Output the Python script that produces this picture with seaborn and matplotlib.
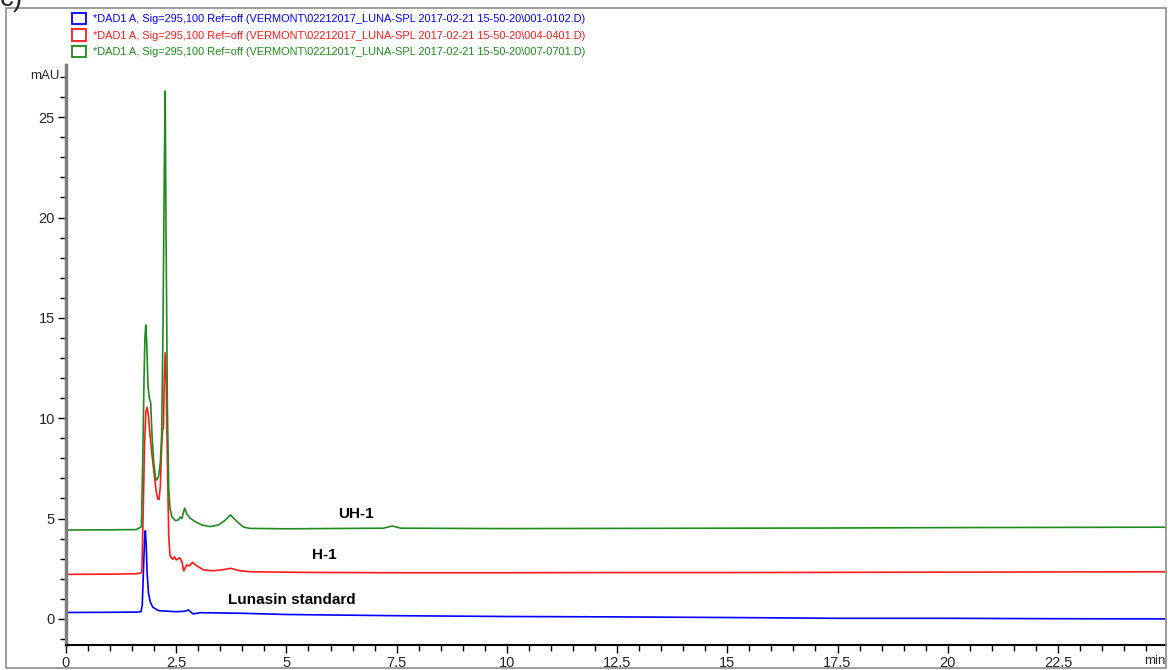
import matplotlib
matplotlib.use("Agg")
import matplotlib.pyplot as plt
from matplotlib import font_manager
from matplotlib.patches import Patch, Rectangle
from matplotlib.ticker import MultipleLocator
import pandas as pd
import seaborn as sns

# ---- chromatogram traces (retention time in min, absorbance in mAU) ----
std_t = [0.0, 1.0, 1.60, 1.70, 1.73, 1.76, 1.78, 1.80, 1.82, 1.84, 1.87, 1.91,
         1.97, 2.10, 2.50, 2.70, 2.78, 2.84, 2.88, 3.05, 4.0, 5.0, 7.5, 10.0,
         12.5, 15.0, 17.5, 20.0, 22.5, 24.95]
std_y = [0.32, 0.33, 0.34, 0.36, 0.70, 2.60, 3.90, 4.40, 3.60, 2.30, 1.30, 0.85,
         0.58, 0.41, 0.36, 0.38, 0.45, 0.32, 0.25, 0.31, 0.28, 0.22, 0.16, 0.12,
         0.10, 0.07, 0.03, 0.03, 0.01, 0.00]

h1_t = [0.0, 1.0, 1.60, 1.72, 1.75, 1.78, 1.81, 1.84, 1.87, 1.90, 1.95, 2.00,
        2.05, 2.08, 2.11, 2.14, 2.17, 2.19, 2.21, 2.23, 2.25, 2.27, 2.30, 2.33,
        2.36, 2.42, 2.46, 2.50, 2.58, 2.63, 2.67, 2.74, 2.80, 2.87, 2.97, 3.12,
        3.35, 3.55, 3.73, 3.95, 4.18, 5.3, 7.5, 10.0, 12.5, 15.0, 17.5, 20.0,
        22.5, 24.95]
h1_y = [2.22, 2.23, 2.25, 2.30, 5.20, 8.60, 10.30, 10.55, 10.1, 9.30, 8.20, 7.20,
        6.30, 5.98, 5.95, 6.60, 8.60, 9.40, 9.50, 12.0, 13.25, 12.0, 7.90, 4.10,
        3.15, 2.97, 3.10, 2.94, 3.05, 2.85, 2.40, 2.69, 2.64, 2.82, 2.64, 2.44,
        2.40, 2.45, 2.52, 2.40, 2.35, 2.32, 2.30, 2.30, 2.31, 2.31, 2.32, 2.33,
        2.34, 2.35]

uh1_t = [0.0, 1.0, 1.60, 1.71, 1.74, 1.77, 1.79, 1.81, 1.83, 1.86, 1.89, 1.92,
         1.95, 1.99, 2.03, 2.06, 2.10, 2.14, 2.17, 2.20, 2.23, 2.25, 2.27, 2.30,
         2.33, 2.36, 2.40, 2.48, 2.55, 2.59, 2.63, 2.69, 2.74, 2.82, 2.93, 3.08,
         3.27, 3.46, 3.60, 3.73, 3.88, 4.03, 4.18, 5.0, 7.2, 7.4, 7.6, 10.0,
         12.5, 15.0, 17.5, 20.0, 22.5, 24.95]
uh1_y = [4.43, 4.44, 4.45, 4.60, 7.80, 12.0, 14.0, 14.64, 13.8, 11.6, 11.0, 10.8,
         9.20, 7.80, 7.05, 6.92, 7.10, 7.80, 9.20, 14.5, 22.5, 26.3, 19.0, 10.5,
         6.50, 5.50, 5.10, 4.90, 4.93, 5.08, 5.00, 5.52, 5.23, 5.01, 4.85, 4.68,
         4.60, 4.68, 4.90, 5.18, 4.85, 4.57, 4.51, 4.49, 4.52, 4.63, 4.52, 4.50,
         4.51, 4.52, 4.53, 4.55, 4.56, 4.57]

sample_names = ["std", "h1", "uh1"]
legend_labels = [
    r"*DAD1 A, Sig=295,100 Ref=off (VERMONT\02212017_LUNA-SPL 2017-02-21 15-50-20\001-0102.D)",
    r"*DAD1 A, Sig=295,100 Ref=off (VERMONT\02212017_LUNA-SPL 2017-02-21 15-50-20\004-0401.D)",
    r"*DAD1 A, Sig=295,100 Ref=off (VERMONT\02212017_LUNA-SPL 2017-02-21 15-50-20\007-0701.D)",
]
trace_labels = ["Lunasin standard", "H-1", "UH-1"]
trace_label_pos = [(3.68, 0.95), (5.59, 3.19), (6.18, 5.23)]
colors = ["#0000ff", "#ff1a1a", "#1f8a1f"]
x_ticks = [0, 2.5, 5, 7.5, 10, 12.5, 15, 17.5, 20, 22.5]
x_tick_labels = ["0", "2.5", "5", "7.5", "10", "12.5", "15", "17.5", "20", "22.5"]
y_ticks = [0, 5, 10, 15, 20, 25]

# ---- font ----
sns.set_theme(style="white")
available = {f.name for f in font_manager.fontManager.ttflist}
base_font = "Liberation Sans Narrow" if "Liberation Sans Narrow" in available else "Liberation Sans"
plt.rcParams["font.family"] = [base_font, "DejaVu Sans"]

frames = []
for name, t, y in zip(sample_names, [std_t, h1_t, uh1_t], [std_y, h1_y, uh1_y]):
    frames.append(pd.DataFrame({"time": t, "mAU": y, "sample": name}))
df = pd.concat(frames, ignore_index=True)

fig = plt.figure(figsize=(11.68, 6.70), dpi=100)
W, H = 1168, 670
ax = fig.add_axes([66 / W, 1 - 645 / H, (1166 - 66) / W, (645 - 65) / H])

sns.lineplot(data=df, x="time", y="mAU", hue="sample", hue_order=sample_names,
             palette=colors, estimator=None, sort=False, linewidth=1.2,
             legend=False, ax=ax)

ax.set_xlim(0, 24.95)
ax.set_ylim(-1.3, 27.6)
ax.set_xlabel("")
ax.set_ylabel("")

# axes styling
for side in ["top", "right"]:
    ax.spines[side].set_visible(False)
ax.spines["left"].set_color("#7f7f7f")
ax.spines["left"].set_linewidth(2.5)
ax.spines["bottom"].set_color("black")
ax.spines["bottom"].set_linewidth(1.5)

ax.set_xticks(x_ticks)
ax.set_xticklabels(x_tick_labels)
ax.xaxis.set_minor_locator(MultipleLocator(0.5))
ax.set_yticks(y_ticks)
ax.yaxis.set_minor_locator(MultipleLocator(1))
ax.tick_params(axis="both", which="major", direction="out", length=6, width=1,
               color="black", labelsize=10.5, pad=2, bottom=True, left=True)
ax.tick_params(axis="both", which="minor", direction="out", length=4, width=1,
               color="black", bottom=True, left=True)
ax.grid(False)

# axis unit labels
ax.text(-0.006, 27.05, "mAU", transform=ax.get_yaxis_transform(),
        ha="right", va="center", fontsize=9.5)
ax.text(1.0, -0.018, "min", transform=ax.transAxes, ha="right", va="top",
        fontsize=9.5)

# trace annotations
for label, (tx, ty) in zip(trace_labels, trace_label_pos):
    ax.text(tx, ty, label, ha="left", va="center", fontsize=11, fontweight="bold",
            color="black")

# legend with empty colored boxes
handles = [Patch(facecolor="none", edgecolor=c, linewidth=1.3) for c in colors]
leg = fig.legend(handles, legend_labels, loc="upper left",
                 bbox_to_anchor=(64 / W, 1 - 5 / H), frameon=False,
                 fontsize=7.9, handlelength=1.3, handleheight=1.25,
                 handletextpad=0.6, labelspacing=0.45, borderpad=0.2)
for txt, c in zip(leg.get_texts(), colors):
    txt.set_color(c)

# panel frame and panel letter
fig.patches.append(Rectangle((6 / W, 1 - 668 / H), (1166 - 6) / W, (668 - 8) / H,
                             transform=fig.transFigure, fill=False,
                             edgecolor="#8c8c8c", linewidth=1.2))
fig.text(0.0, 1 - 6 / H, "c)", ha="left", va="baseline", fontsize=20)

fig.savefig("out.png", dpi=100)
